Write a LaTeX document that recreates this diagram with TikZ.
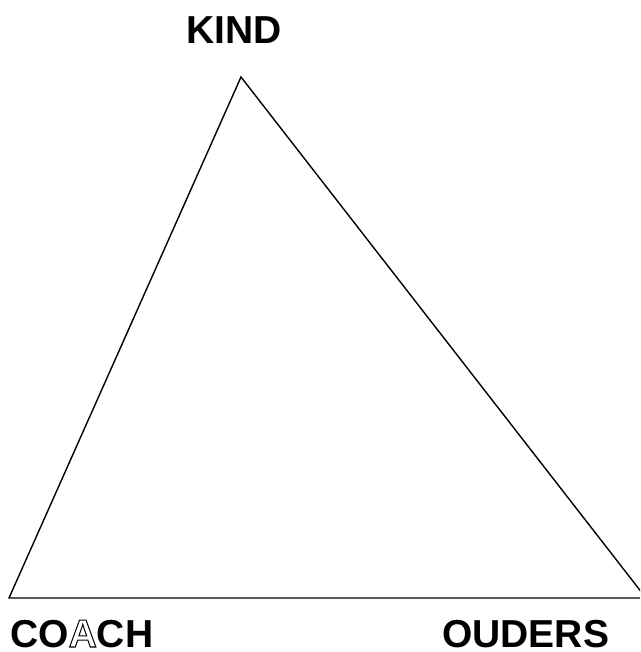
\documentclass[tikz,border=0pt]{standalone}
\usepackage{fontspec}
\setmainfont{Liberation Sans}
\tikzset{
  edge/.style={line width=1.4pt, line join=miter},
  lbl/.style={anchor=base west, inner sep=0pt, font=\bfseries\fontsize{39}{47}\selectfont}
}
\begin{document}
\begin{tikzpicture}[x=1pt,y=1pt]
\useasboundingbox (0,0) rectangle (640,652);
\clip (0,0) rectangle (640,652);
\coordinate (top) at (241,575);
\coordinate (left) at (9,54);
\coordinate (right) at (646,54);
\draw[edge] (top) -- (left) -- (right) -- cycle;
\node[lbl] (kind) at (186,608) {KIND};
\node[lbl] (coach) at (10,5) {CO{\special{pdf:code 1 Tr 1 w}A\special{pdf:code 0 Tr}}CH};
\node[lbl] (ouders) at (442,5) {OUDERS};
\end{tikzpicture}
\end{document}
